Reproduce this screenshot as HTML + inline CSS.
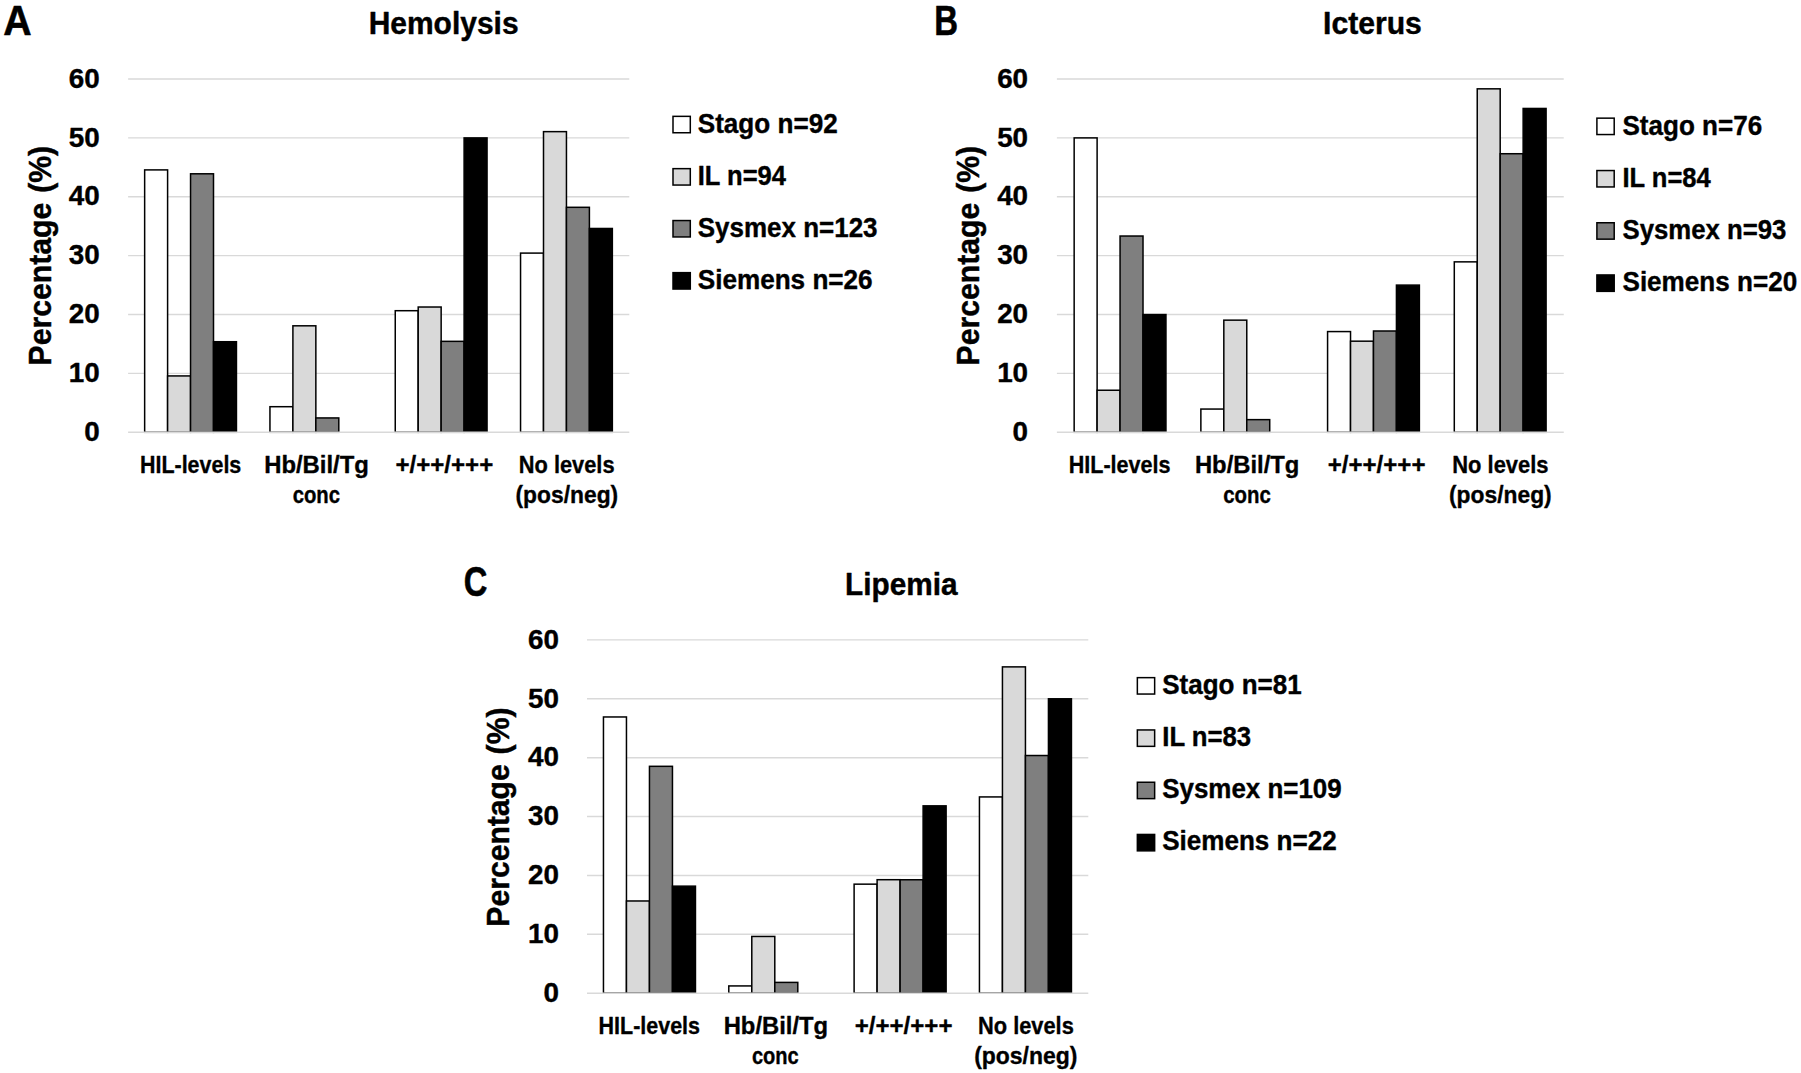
<!DOCTYPE html>
<html lang="en">
<head>
<meta charset="utf-8">
<title>Hemolysis, Icterus, Lipemia</title>
<style>
html,body{margin:0;padding:0;background:#fff;}
body{width:1801px;height:1073px;overflow:hidden;}
svg{display:block;}
svg text{font-family:"Liberation Sans", sans-serif;font-weight:bold;fill:#000;stroke:#000;stroke-linejoin:round;}
</style>
</head>
<body>
<svg width="1801" height="1073" viewBox="0 0 1801 1073">
<rect x="0" y="0" width="1801" height="1073" fill="#ffffff"/>
<g shape-rendering="geometricPrecision">
<line x1="128.10" y1="373.42" x2="629.30" y2="373.42" stroke="#d9d9d9" stroke-width="1.4"/>
<line x1="128.10" y1="314.54" x2="629.30" y2="314.54" stroke="#d9d9d9" stroke-width="1.4"/>
<line x1="128.10" y1="255.66" x2="629.30" y2="255.66" stroke="#d9d9d9" stroke-width="1.4"/>
<line x1="128.10" y1="196.78" x2="629.30" y2="196.78" stroke="#d9d9d9" stroke-width="1.4"/>
<line x1="128.10" y1="137.90" x2="629.30" y2="137.90" stroke="#d9d9d9" stroke-width="1.4"/>
<line x1="128.10" y1="79.02" x2="629.30" y2="79.02" stroke="#d9d9d9" stroke-width="1.4"/>
<rect x="144.65" y="169.90" width="22.95" height="262.40" fill="#ffffff" stroke="#000" stroke-width="1.5"/>
<rect x="167.60" y="375.93" width="22.95" height="56.37" fill="#d9d9d9" stroke="#000" stroke-width="1.5"/>
<rect x="190.55" y="173.80" width="22.95" height="258.50" fill="#7f7f7f" stroke="#000" stroke-width="1.5"/>
<rect x="213.50" y="341.72" width="22.95" height="90.58" fill="#000000" stroke="#000" stroke-width="1.5"/>
<rect x="269.95" y="406.70" width="22.95" height="25.60" fill="#ffffff" stroke="#000" stroke-width="1.5"/>
<rect x="292.90" y="325.81" width="22.95" height="106.49" fill="#d9d9d9" stroke="#000" stroke-width="1.5"/>
<rect x="315.85" y="417.94" width="22.95" height="14.36" fill="#7f7f7f" stroke="#000" stroke-width="1.5"/>
<rect x="395.25" y="310.70" width="22.95" height="121.60" fill="#ffffff" stroke="#000" stroke-width="1.5"/>
<rect x="418.20" y="307.02" width="22.95" height="125.28" fill="#d9d9d9" stroke="#000" stroke-width="1.5"/>
<rect x="441.15" y="341.35" width="22.95" height="90.95" fill="#7f7f7f" stroke="#000" stroke-width="1.5"/>
<rect x="464.10" y="137.90" width="22.95" height="294.40" fill="#000000" stroke="#000" stroke-width="1.5"/>
<rect x="520.55" y="253.10" width="22.95" height="179.20" fill="#ffffff" stroke="#000" stroke-width="1.5"/>
<rect x="543.50" y="131.64" width="22.95" height="300.66" fill="#d9d9d9" stroke="#000" stroke-width="1.5"/>
<rect x="566.45" y="207.31" width="22.95" height="224.99" fill="#7f7f7f" stroke="#000" stroke-width="1.5"/>
<rect x="589.40" y="228.48" width="22.95" height="203.82" fill="#000000" stroke="#000" stroke-width="1.5"/>
<line x1="128.10" y1="432.30" x2="629.30" y2="432.30" stroke="#d9d9d9" stroke-width="1.6"/>
<rect x="673.00" y="116.35" width="17.30" height="16.40" fill="#ffffff" stroke="#000" stroke-width="1.5"/>
<rect x="673.00" y="168.65" width="17.30" height="16.40" fill="#d9d9d9" stroke="#000" stroke-width="1.5"/>
<rect x="673.00" y="220.55" width="17.30" height="16.40" fill="#7f7f7f" stroke="#000" stroke-width="1.5"/>
<rect x="673.00" y="272.65" width="17.30" height="16.40" fill="#000000" stroke="#000" stroke-width="1.5"/>
<line x1="1056.90" y1="373.42" x2="1563.75" y2="373.42" stroke="#d9d9d9" stroke-width="1.4"/>
<line x1="1056.90" y1="314.54" x2="1563.75" y2="314.54" stroke="#d9d9d9" stroke-width="1.4"/>
<line x1="1056.90" y1="255.66" x2="1563.75" y2="255.66" stroke="#d9d9d9" stroke-width="1.4"/>
<line x1="1056.90" y1="196.78" x2="1563.75" y2="196.78" stroke="#d9d9d9" stroke-width="1.4"/>
<line x1="1056.90" y1="137.90" x2="1563.75" y2="137.90" stroke="#d9d9d9" stroke-width="1.4"/>
<line x1="1056.90" y1="79.02" x2="1563.75" y2="79.02" stroke="#d9d9d9" stroke-width="1.4"/>
<rect x="1074.16" y="137.90" width="22.95" height="294.40" fill="#ffffff" stroke="#000" stroke-width="1.5"/>
<rect x="1097.11" y="390.24" width="22.95" height="42.06" fill="#d9d9d9" stroke="#000" stroke-width="1.5"/>
<rect x="1120.06" y="236.03" width="22.95" height="196.27" fill="#7f7f7f" stroke="#000" stroke-width="1.5"/>
<rect x="1143.01" y="314.54" width="22.95" height="117.76" fill="#000000" stroke="#000" stroke-width="1.5"/>
<rect x="1200.87" y="409.06" width="22.95" height="23.24" fill="#ffffff" stroke="#000" stroke-width="1.5"/>
<rect x="1223.82" y="320.15" width="22.95" height="112.15" fill="#d9d9d9" stroke="#000" stroke-width="1.5"/>
<rect x="1246.77" y="419.64" width="22.95" height="12.66" fill="#7f7f7f" stroke="#000" stroke-width="1.5"/>
<rect x="1327.58" y="331.58" width="22.95" height="100.72" fill="#ffffff" stroke="#000" stroke-width="1.5"/>
<rect x="1350.53" y="341.18" width="22.95" height="91.12" fill="#d9d9d9" stroke="#000" stroke-width="1.5"/>
<rect x="1373.48" y="331.00" width="22.95" height="101.30" fill="#7f7f7f" stroke="#000" stroke-width="1.5"/>
<rect x="1396.43" y="285.10" width="22.95" height="147.20" fill="#000000" stroke="#000" stroke-width="1.5"/>
<rect x="1454.29" y="261.86" width="22.95" height="170.44" fill="#ffffff" stroke="#000" stroke-width="1.5"/>
<rect x="1477.24" y="88.83" width="22.95" height="343.47" fill="#d9d9d9" stroke="#000" stroke-width="1.5"/>
<rect x="1500.19" y="153.73" width="22.95" height="278.57" fill="#7f7f7f" stroke="#000" stroke-width="1.5"/>
<rect x="1523.14" y="108.46" width="22.95" height="323.84" fill="#000000" stroke="#000" stroke-width="1.5"/>
<line x1="1056.90" y1="432.30" x2="1563.75" y2="432.30" stroke="#d9d9d9" stroke-width="1.6"/>
<rect x="1596.90" y="118.15" width="17.30" height="16.40" fill="#ffffff" stroke="#000" stroke-width="1.5"/>
<rect x="1596.90" y="170.55" width="17.30" height="16.40" fill="#d9d9d9" stroke="#000" stroke-width="1.5"/>
<rect x="1596.90" y="222.75" width="17.30" height="16.40" fill="#7f7f7f" stroke="#000" stroke-width="1.5"/>
<rect x="1596.90" y="274.95" width="17.30" height="16.40" fill="#000000" stroke="#000" stroke-width="1.5"/>
<line x1="587.00" y1="934.32" x2="1088.30" y2="934.32" stroke="#d9d9d9" stroke-width="1.4"/>
<line x1="587.00" y1="875.44" x2="1088.30" y2="875.44" stroke="#d9d9d9" stroke-width="1.4"/>
<line x1="587.00" y1="816.56" x2="1088.30" y2="816.56" stroke="#d9d9d9" stroke-width="1.4"/>
<line x1="587.00" y1="757.68" x2="1088.30" y2="757.68" stroke="#d9d9d9" stroke-width="1.4"/>
<line x1="587.00" y1="698.80" x2="1088.30" y2="698.80" stroke="#d9d9d9" stroke-width="1.4"/>
<line x1="587.00" y1="639.92" x2="1088.30" y2="639.92" stroke="#d9d9d9" stroke-width="1.4"/>
<rect x="603.46" y="716.97" width="23.00" height="276.23" fill="#ffffff" stroke="#000" stroke-width="1.5"/>
<rect x="626.46" y="900.98" width="23.00" height="92.22" fill="#d9d9d9" stroke="#000" stroke-width="1.5"/>
<rect x="649.46" y="766.32" width="23.00" height="226.88" fill="#7f7f7f" stroke="#000" stroke-width="1.5"/>
<rect x="672.46" y="886.15" width="23.00" height="107.05" fill="#000000" stroke="#000" stroke-width="1.5"/>
<rect x="728.79" y="985.93" width="23.00" height="7.27" fill="#ffffff" stroke="#000" stroke-width="1.5"/>
<rect x="751.79" y="936.45" width="23.00" height="56.75" fill="#d9d9d9" stroke="#000" stroke-width="1.5"/>
<rect x="774.79" y="982.40" width="23.00" height="10.80" fill="#7f7f7f" stroke="#000" stroke-width="1.5"/>
<rect x="854.11" y="884.16" width="23.00" height="109.04" fill="#ffffff" stroke="#000" stroke-width="1.5"/>
<rect x="877.11" y="879.70" width="23.00" height="113.50" fill="#d9d9d9" stroke="#000" stroke-width="1.5"/>
<rect x="900.11" y="879.76" width="23.00" height="113.44" fill="#7f7f7f" stroke="#000" stroke-width="1.5"/>
<rect x="923.11" y="805.85" width="23.00" height="187.35" fill="#000000" stroke="#000" stroke-width="1.5"/>
<rect x="979.44" y="796.93" width="23.00" height="196.27" fill="#ffffff" stroke="#000" stroke-width="1.5"/>
<rect x="1002.44" y="666.88" width="23.00" height="326.32" fill="#d9d9d9" stroke="#000" stroke-width="1.5"/>
<rect x="1025.44" y="755.52" width="23.00" height="237.68" fill="#7f7f7f" stroke="#000" stroke-width="1.5"/>
<rect x="1048.44" y="698.80" width="23.00" height="294.40" fill="#000000" stroke="#000" stroke-width="1.5"/>
<line x1="587.00" y1="993.20" x2="1088.30" y2="993.20" stroke="#d9d9d9" stroke-width="1.6"/>
<rect x="1137.35" y="677.65" width="17.30" height="16.40" fill="#ffffff" stroke="#000" stroke-width="1.5"/>
<rect x="1137.35" y="729.95" width="17.30" height="16.40" fill="#d9d9d9" stroke="#000" stroke-width="1.5"/>
<rect x="1137.35" y="782.25" width="17.30" height="16.40" fill="#7f7f7f" stroke="#000" stroke-width="1.5"/>
<rect x="1137.35" y="834.45" width="17.30" height="16.40" fill="#000000" stroke="#000" stroke-width="1.5"/>
</g>
<g>
<text transform="translate(3.37 34.61) scale(0.9435 1)" font-size="41.65" stroke-width="0.58">A</text>
<text transform="translate(934.24 34.61) scale(0.7905 1)" font-size="41.65" stroke-width="0.58">B</text>
<text transform="translate(463.72 595.51) scale(0.7852 1)" font-size="41.65" stroke-width="0.58">C</text>
<text transform="translate(368.65 34.23) scale(0.9532 1)" font-size="31.46" stroke-width="0.44">Hemolysis</text>
<text transform="translate(1323.04 34.23) scale(0.9586 1)" font-size="31.46" stroke-width="0.44">Icterus</text>
<text transform="translate(845.07 595.38) scale(0.9465 1)" font-size="31.46" stroke-width="0.44">Lipemia</text>
<text transform="translate(51.28 365.42) rotate(-90) scale(0.9656 1)" font-size="31.26" stroke-width="0.44" word-spacing="1.55">Percentage (%)</text>
<text transform="translate(140.01 472.64) scale(0.9193 1)" font-size="23.33" stroke-width="0.33">HIL-levels</text>
<text transform="translate(264.16 472.64) scale(1.0232 1)" font-size="23.33" stroke-width="0.33">Hb/Bil/Tg</text>
<text transform="translate(292.66 503.04) scale(0.8703 1)" font-size="23.33" stroke-width="0.33">conc</text>
<text transform="translate(395.40 472.64) scale(1.0334 1)" font-size="23.33" stroke-width="0.33">+/++/+++</text>
<text transform="translate(518.75 472.64) scale(0.9355 1)" font-size="23.33" stroke-width="0.33">No levels</text>
<text transform="translate(515.45 503.04) scale(0.9793 1)" font-size="23.33" stroke-width="0.33">(pos/neg)</text>
<text transform="translate(697.74 132.81) scale(0.9478 1)" font-size="27.54" stroke-width="0.39">Stago n=92</text>
<text transform="translate(697.78 185.01) scale(0.9272 1)" font-size="27.54" stroke-width="0.39">IL n=94</text>
<text transform="translate(697.74 237.11) scale(0.9436 1)" font-size="27.54" stroke-width="0.39">Sysmex n=123</text>
<text transform="translate(697.74 288.81) scale(0.9486 1)" font-size="27.54" stroke-width="0.39">Siemens n=26</text>
<text transform="translate(979.38 365.42) rotate(-90) scale(0.9656 1)" font-size="31.26" stroke-width="0.44" word-spacing="1.55">Percentage (%)</text>
<text transform="translate(1068.76 472.64) scale(0.9239 1)" font-size="23.33" stroke-width="0.33">HIL-levels</text>
<text transform="translate(1194.91 472.64) scale(1.0207 1)" font-size="23.33" stroke-width="0.33">Hb/Bil/Tg</text>
<text transform="translate(1223.16 503.04) scale(0.8749 1)" font-size="23.33" stroke-width="0.33">conc</text>
<text transform="translate(1327.65 472.64) scale(1.0334 1)" font-size="23.33" stroke-width="0.33">+/++/+++</text>
<text transform="translate(1452.24 472.64) scale(0.9404 1)" font-size="23.33" stroke-width="0.33">No levels</text>
<text transform="translate(1448.95 503.04) scale(0.9793 1)" font-size="23.33" stroke-width="0.33">(pos/neg)</text>
<text transform="translate(1622.49 134.81) scale(0.9457 1)" font-size="27.54" stroke-width="0.39">Stago n=76</text>
<text transform="translate(1622.53 187.21) scale(0.9272 1)" font-size="27.54" stroke-width="0.39">IL n=84</text>
<text transform="translate(1622.49 239.31) scale(0.9350 1)" font-size="27.54" stroke-width="0.39">Sysmex n=93</text>
<text transform="translate(1622.49 291.06) scale(0.9470 1)" font-size="27.54" stroke-width="0.39">Siemens n=20</text>
<text transform="translate(509.38 926.67) rotate(-90) scale(0.9643 1)" font-size="31.26" stroke-width="0.44" word-spacing="1.56">Percentage (%)</text>
<text transform="translate(598.51 1033.64) scale(0.9216 1)" font-size="23.33" stroke-width="0.33">HIL-levels</text>
<text transform="translate(723.66 1033.64) scale(1.0207 1)" font-size="23.33" stroke-width="0.33">Hb/Bil/Tg</text>
<text transform="translate(751.91 1064.04) scale(0.8611 1)" font-size="23.33" stroke-width="0.33">conc</text>
<text transform="translate(854.65 1033.64) scale(1.0334 1)" font-size="23.33" stroke-width="0.33">+/++/+++</text>
<text transform="translate(978.00 1033.64) scale(0.9355 1)" font-size="23.33" stroke-width="0.33">No levels</text>
<text transform="translate(974.20 1064.04) scale(0.9842 1)" font-size="23.33" stroke-width="0.33">(pos/neg)</text>
<text transform="translate(1162.24 693.71) scale(0.9440 1)" font-size="27.54" stroke-width="0.39">Stago n=81</text>
<text transform="translate(1162.28 746.06) scale(0.9342 1)" font-size="27.54" stroke-width="0.39">IL n=83</text>
<text transform="translate(1162.24 798.41) scale(0.9413 1)" font-size="27.54" stroke-width="0.39">Sysmex n=109</text>
<text transform="translate(1162.24 850.41) scale(0.9456 1)" font-size="27.54" stroke-width="0.39">Siemens n=22</text>
<text transform="translate(84.20 441.01) scale(1.0 1)" font-size="27.83" stroke-width="0.39">0</text>
<text transform="translate(68.73 382.13) scale(1.0 1)" font-size="27.83" stroke-width="0.39">10</text>
<text transform="translate(68.73 323.25) scale(1.0 1)" font-size="27.83" stroke-width="0.39">20</text>
<text transform="translate(68.73 264.37) scale(1.0 1)" font-size="27.83" stroke-width="0.39">30</text>
<text transform="translate(68.73 205.49) scale(1.0 1)" font-size="27.83" stroke-width="0.39">40</text>
<text transform="translate(68.73 146.61) scale(1.0 1)" font-size="27.83" stroke-width="0.39">50</text>
<text transform="translate(68.73 87.73) scale(1.0 1)" font-size="27.83" stroke-width="0.39">60</text>
<text transform="translate(1012.60 441.01) scale(1.0 1)" font-size="27.83" stroke-width="0.39">0</text>
<text transform="translate(997.13 382.13) scale(1.0 1)" font-size="27.83" stroke-width="0.39">10</text>
<text transform="translate(997.13 323.25) scale(1.0 1)" font-size="27.83" stroke-width="0.39">20</text>
<text transform="translate(997.13 264.37) scale(1.0 1)" font-size="27.83" stroke-width="0.39">30</text>
<text transform="translate(997.13 205.49) scale(1.0 1)" font-size="27.83" stroke-width="0.39">40</text>
<text transform="translate(997.13 146.61) scale(1.0 1)" font-size="27.83" stroke-width="0.39">50</text>
<text transform="translate(997.13 87.73) scale(1.0 1)" font-size="27.83" stroke-width="0.39">60</text>
<text transform="translate(543.40 1001.91) scale(1.0 1)" font-size="27.83" stroke-width="0.39">0</text>
<text transform="translate(527.93 943.03) scale(1.0 1)" font-size="27.83" stroke-width="0.39">10</text>
<text transform="translate(527.93 884.15) scale(1.0 1)" font-size="27.83" stroke-width="0.39">20</text>
<text transform="translate(527.93 825.27) scale(1.0 1)" font-size="27.83" stroke-width="0.39">30</text>
<text transform="translate(527.93 766.39) scale(1.0 1)" font-size="27.83" stroke-width="0.39">40</text>
<text transform="translate(527.93 707.51) scale(1.0 1)" font-size="27.83" stroke-width="0.39">50</text>
<text transform="translate(527.93 648.63) scale(1.0 1)" font-size="27.83" stroke-width="0.39">60</text>
</g>
</svg>
</body>
</html>
